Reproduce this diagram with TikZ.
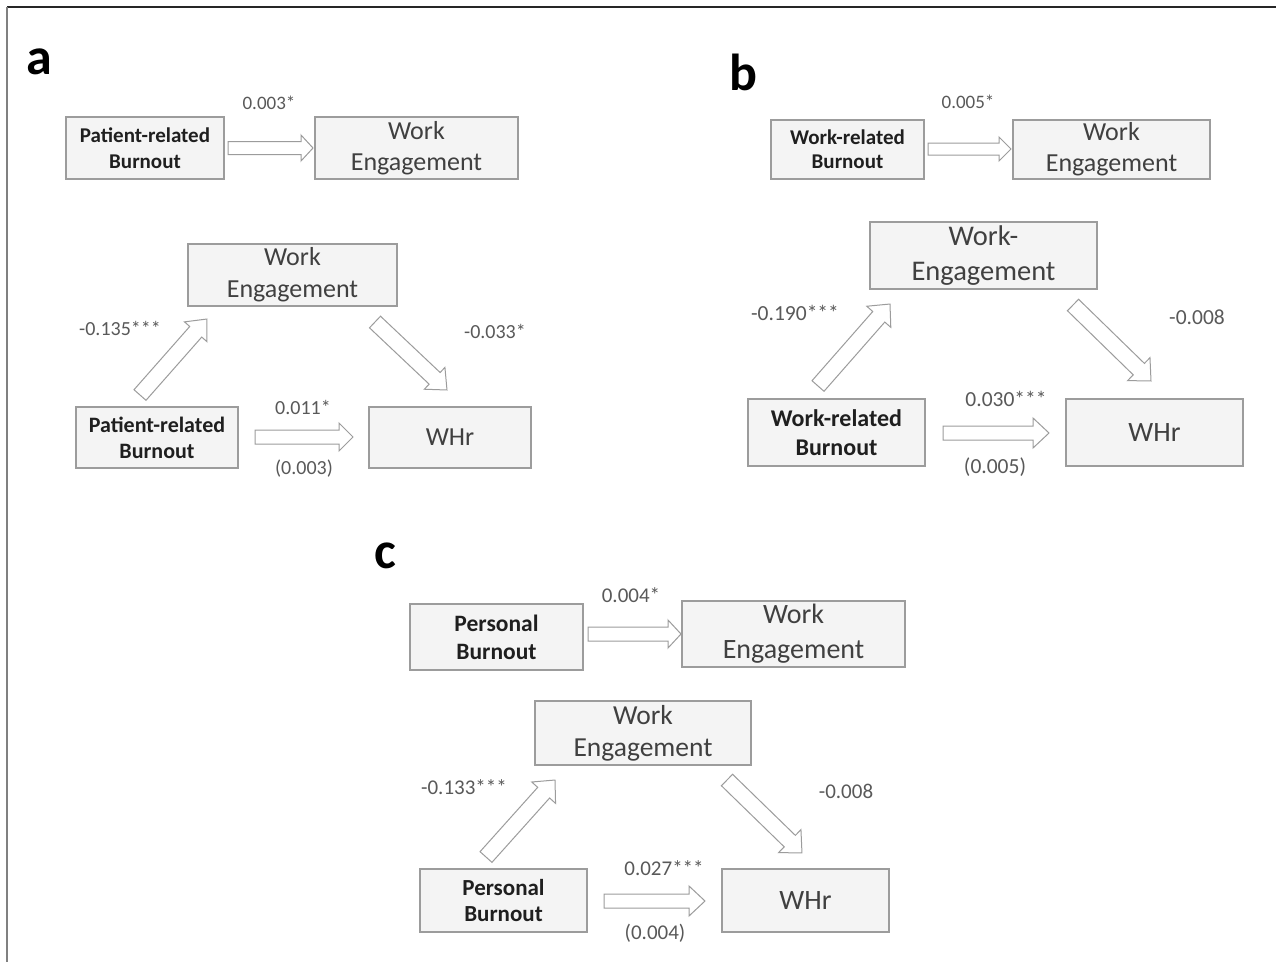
\documentclass[tikz,border=0pt]{standalone}
\usepackage{fontspec}
\setmainfont{Carlito}
\definecolor{boxfill}{HTML}{F4F4F4}
\definecolor{boxline}{HTML}{9C9C9C}
\definecolor{wetext}{HTML}{404040}
\definecolor{numtext}{HTML}{595959}
\newcommand{\fs}[2]{\fontsize{#1}{#2}\selectfont}
\newcommand{\barr}[7]{%
  \pgfmathsetmacro\bang{-atan2((#4)-(#2),(#3)-(#1))}%
  \pgfmathsetmacro\blen{veclen((#3)-(#1),(#4)-(#2))}%
  \begin{scope}[shift={(#1,#2)},rotate=\bang]
    \draw[blockarrow] (0,-#5) -- (\blen-#7,-#5) -- (\blen-#7,-#6) -- (\blen,0)
      -- (\blen-#7,#6) -- (\blen-#7,#5) -- (0,#5) -- cycle;
  \end{scope}}
\begin{document}
\begin{tikzpicture}[x=1pt,y=-1pt,
  box/.style={draw=boxline, fill=boxfill, line width=1.3pt, inner sep=0pt, align=center},
  wetxt/.style={text=wetext},
  bur/.style={text=black!88},
  num/.style={text=numtext, inner sep=0pt},
  blockarrow/.style={draw=boxline, fill=white, line width=1pt, line join=miter},
  panel/.style={font=\bfseries\fs{52}{60}, inner sep=0pt}]
\useasboundingbox (0,0) rectangle (1276,962);
\fill[white] (0,0) rectangle (1276,962);
% frame
\draw[black!85, line width=2pt] (7,7) -- (1276,7);
\draw[black!50, line width=2.5pt] (7,7) -- (7,962);

% ---------- panel a ----------
\node[panel] (la) at (39,62) {a};
\node[box, bur, minimum width=158, minimum height=62, font=\bfseries\fs{21}{26}] (aPB1) at (145,148) {Patient-related\\Burnout};
\node[box, wetxt, minimum width=203, minimum height=62, font=\fs{26}{31}] (aWE1) at (416.5,148) {Work\\Engagement};
\node[num, font=\fs{19}{22}] (an1) at (269,103) {0.003*};
\barr{228}{148}{313}{148}{6.5}{13}{12}

\node[box, wetxt, minimum width=209, minimum height=62, font=\fs{26}{32}] (aWE2) at (292.5,275) {Work\\Engagement};
\node[box, bur, minimum width=162, minimum height=61, font=\bfseries\fs{22}{26}] (aPB2) at (157,437.5) {Patient-related\\Burnout};
\node[box, wetxt, minimum width=162, minimum height=61, font=\fs{26}{30}] (aWHr) at (450,437.5) {WHr};
\node[num, font=\fs{20}{24}] (an2) at (120,328) {-0.135***};
\node[num, font=\fs{20}{24}] (an3) at (495,331) {-0.033*};
\node[num, font=\fs{20}{24}] (an4) at (303,407) {0.011*};
\node[num, font=\fs{20}{24}] (an5) at (304,469) {(0.003)};
\barr{140}{395}{207}{319}{8}{15}{17}
\barr{375}{322}{447}{390}{8}{15}{17}
\barr{255}{437}{353}{437}{7}{14}{14}

% ---------- panel b ----------
\node[panel] (lb) at (743,72) {b};
\node[box, bur, minimum width=153, minimum height=59, font=\bfseries\fs{21}{24}] (bWB1) at (847.5,149.5) {Work-related\\Burnout};
\node[box, wetxt, minimum width=197, minimum height=59, font=\fs{26}{31}] (bWE1) at (1111.5,149.5) {Work\\Engagement};
\node[num, font=\fs{19}{22}] (bn1) at (968,102) {0.005*};
\barr{928}{149}{1011}{149}{6}{12}{12}

\node[box, wetxt, minimum width=227, minimum height=67, font=\fs{28.5}{35}] (bWE2) at (983.5,255.5) {Work-\\Engagement};
\node[box, bur, minimum width=177, minimum height=67, font=\bfseries\fs{24}{29}] (bWB2) at (836.5,432.5) {Work-related\\Burnout};
\node[box, wetxt, minimum width=177, minimum height=67, font=\fs{28}{32}] (bWHr) at (1154.5,432.5) {WHr};
\node[num, font=\fs{21.5}{25}] (bn2) at (795,313) {-0.190***};
\node[num, font=\fs{21.5}{25}] (bn3) at (1197,317) {-0.008};
\node[num, font=\fs{21.5}{25}] (bn4) at (1006,399) {0.030***};
\node[num, font=\fs{21.5}{25}] (bn5) at (995,467) {(0.005)};
\barr{818}{386}{890}{304}{8}{16}{17}
\barr{1073}{305}{1151}{381}{8}{16}{17}
\barr{943}{433}{1049}{433}{7}{15}{16}

% ---------- panel c ----------
\node[panel] (lc) at (385,556) {c};
\node[box, bur, minimum width=173, minimum height=66, font=\bfseries\fs{23.5}{28}] (cPB1) at (496.5,637) {Personal\\Burnout};
\node[box, wetxt, minimum width=223, minimum height=66, font=\fs{28}{35}] (cWE1) at (793.5,634) {Work\\Engagement};
\node[num, font=\fs{21}{24}] (cn1) at (631,595) {0.004*};
\barr{588}{634}{681}{634}{7}{14}{13}

\node[box, wetxt, minimum width=216, minimum height=64, font=\fs{27.5}{32}] (cWE2) at (643,733) {Work\\Engagement};
\node[box, bur, minimum width=167, minimum height=63, font=\bfseries\fs{23}{26}] (cPB2) at (503.5,900.5) {Personal\\Burnout};
\node[box, wetxt, minimum width=167, minimum height=63, font=\fs{28}{32}] (cWHr) at (805.5,900.5) {WHr};
\node[num, font=\fs{21}{24}] (cn2) at (464,787) {-0.133***};
\node[num, font=\fs{21}{24}] (cn3) at (846,791) {-0.008};
\node[num, font=\fs{21}{24}] (cn4) at (664,868) {0.027***};
\node[num, font=\fs{21}{24}] (cn5) at (655,933) {(0.004)};
\barr{486}{857}{555}{780}{8}{16}{17}
\barr{727}{780}{802}{853}{8}{16}{17}
\barr{604}{901}{705}{901}{7}{15}{16}
\end{tikzpicture}
\end{document}
